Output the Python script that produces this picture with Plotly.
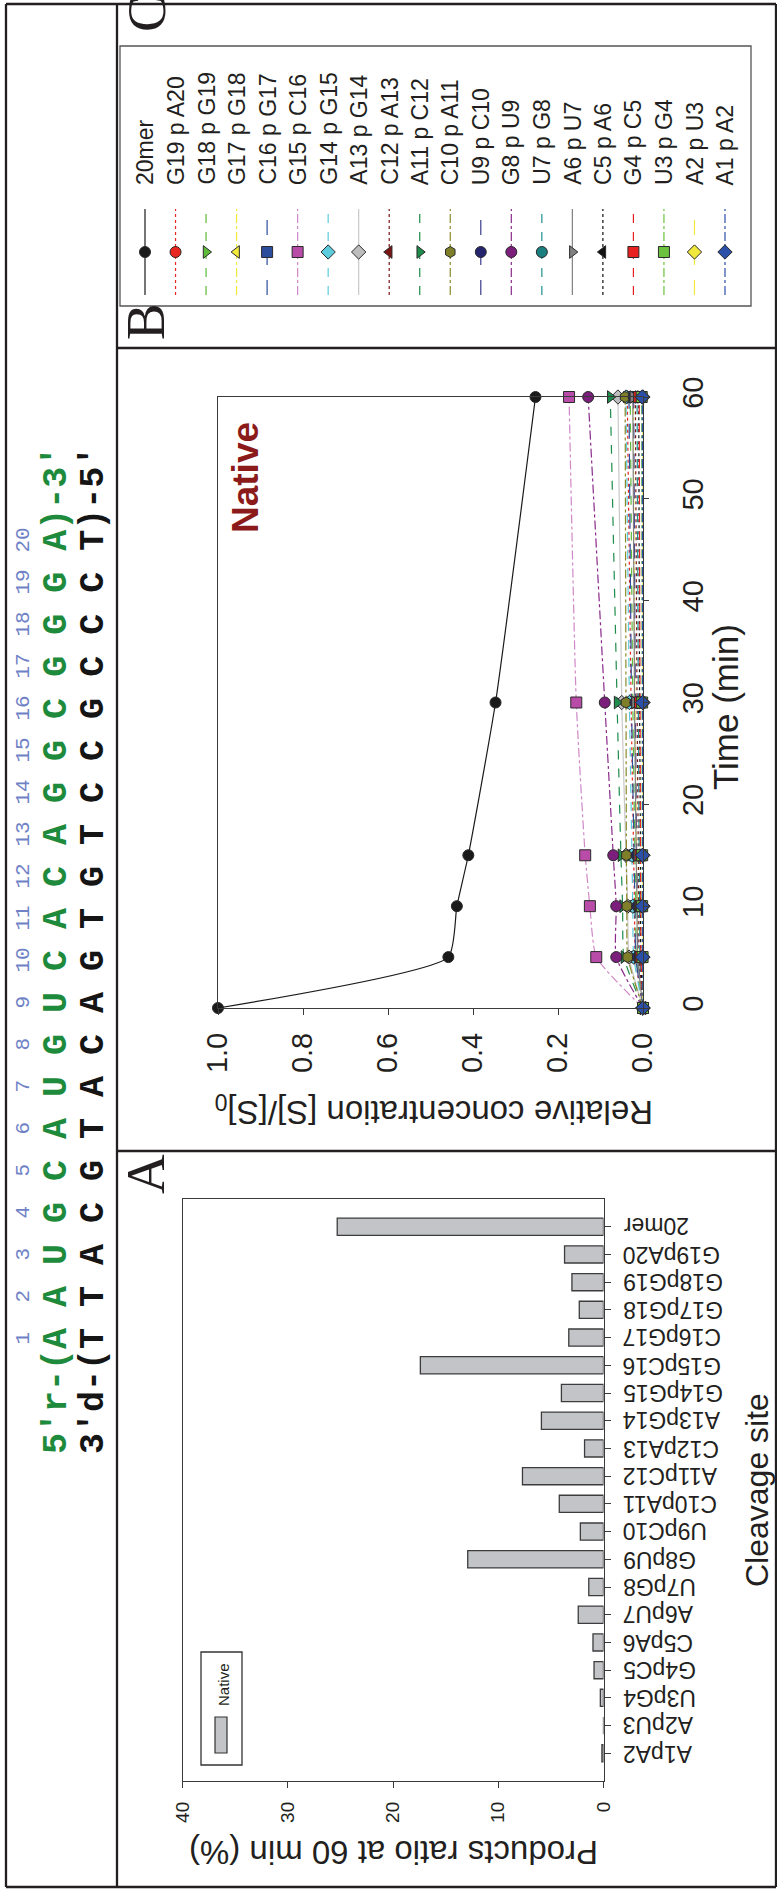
import plotly.graph_objects as go

W, H = 777, 1898

# ---------------- data ----------------
# (B) time course: relative concentration [S]/[S]0 vs time (min)
times = [0, 5, 10, 15, 30, 60]
conc_20mer   = [1.000, 0.458, 0.438, 0.411, 0.347, 0.253]
conc_G19pA20 = [0.0, 0.018, 0.020, 0.022, 0.028, 0.037]
conc_G18pG19 = [0.0, 0.016, 0.017, 0.019, 0.024, 0.030]
conc_G17pG18 = [0.0, 0.012, 0.013, 0.015, 0.019, 0.023]
conc_C16pG17 = [0.0, 0.017, 0.019, 0.021, 0.027, 0.033]
conc_G15pC16 = [0.0, 0.110, 0.125, 0.136, 0.157, 0.174]
conc_G14pG15 = [0.0, 0.022, 0.024, 0.026, 0.032, 0.040]
conc_A13pG14 = [0.0, 0.033, 0.036, 0.040, 0.050, 0.059]
conc_C12pA13 = [0.0, 0.009, 0.010, 0.011, 0.014, 0.018]
conc_A11pC12 = [0.0, 0.045, 0.048, 0.052, 0.061, 0.077]
conc_C10pA11 = [0.0, 0.036, 0.038, 0.039, 0.040, 0.042]
conc_U9pC10  = [0.0, 0.012, 0.013, 0.015, 0.018, 0.022]
conc_G8pU9   = [0.0, 0.063, 0.063, 0.070, 0.090, 0.129]
conc_U7pG8   = [0.0, 0.007, 0.008, 0.009, 0.011, 0.014]
conc_A6pU7   = [0.0, 0.013, 0.014, 0.016, 0.020, 0.024]
conc_C5pA6   = [0.0, 0.005, 0.006, 0.006, 0.008, 0.010]
conc_G4pC5   = [0.0, 0.005, 0.005, 0.006, 0.007, 0.009]
conc_U3pG4   = [0.0, 0.001, 0.002, 0.002, 0.002, 0.003]
conc_A2pU3   = [0.0, 0.000, 0.000, 0.000, 0.000, 0.000]
conc_A1pA2   = [0.0, 0.001, 0.001, 0.001, 0.001, 0.0015]

species_labels = ["20mer", "G19 p A20", "G18 p G19", "G17 p G18", "C16 p G17",
                  "G15 p C16", "G14 p G15", "A13 p G14", "C12 p A13", "A11 p C12",
                  "C10 p A11", "U9 p C10", "G8 p U9", "U7 p G8", "A6 p U7",
                  "C5 p A6", "G4 p C5", "U3 p G4", "A2 p U3", "A1 p A2"]
species_values = [conc_20mer, conc_G19pA20, conc_G18pG19, conc_G17pG18, conc_C16pG17,
                  conc_G15pC16, conc_G14pG15, conc_A13pG14, conc_C12pA13, conc_A11pC12,
                  conc_C10pA11, conc_U9pC10, conc_G8pU9, conc_U7pG8, conc_A6pU7,
                  conc_C5pA6, conc_G4pC5, conc_U3pG4, conc_A2pU3, conc_A1pA2]

# (A) products ratio at 60 min (%) per cleavage site
sites = ["20mer", "G19pA20", "G18pG19", "G17pG18", "C16pG17", "G15pC16", "G14pG15",
         "A13pG14", "C12pA13", "A11pC12", "C10pA11", "U9pC10", "G8pU9", "U7pG8",
         "A6pU7", "C5pA6", "G4pC5", "U3pG4", "A2pU3", "A1pA2"]
ratio_60min = [25.3, 3.7, 3.0, 2.3, 3.3, 17.4, 4.0, 5.9, 1.8, 7.7, 4.2, 2.2, 12.9,
               1.4, 2.4, 1.0, 0.9, 0.3, 0.0, 0.15]

# sequence of the duplex
rna_strand = "5′r-(A A U G C A U G U C A C A G G C G G G A)-3′"
dna_strand = "3′d-(T T A C G T A C A G T G T C C G C C C T)-5′"
site_numbers = list(range(1, 21))

# ---------------- styling ----------------
SANS = "Liberation Sans, Arial, Helvetica, sans-serif"
SERIF = "Liberation Serif, Times New Roman, serif"
MONO = "Liberation Mono, Courier New, monospace"
INK = "#231f20"
AX = "#3a3a3a"

# (line colour, marker symbol, marker colour, dash) per species
styles = [
    ("#1a1a1a", "circle",         "#1a1a1a", "solid"),
    ("#e8251f", "circle",         "#e8251f", "dot"),
    ("#5dbb3a", "triangle-right", "#5dbb3a", "dash"),
    ("#f2ea3a", "triangle-left",  "#f2ea3a", "dashdot"),
    ("#2c4c9c", "square",         "#2c4c9c", "longdash"),
    ("#d088c8", "square",         "#b84ca8", "dashdot"),
    ("#5ccbdc", "diamond",        "#5ccbdc", "dash"),
    ("#c8c8c8", "diamond",        "#bdbdbd", "solid"),
    ("#7a1414", "triangle-left",  "#7a1414", "dot"),
    ("#1e8c4a", "triangle-right", "#1e8c4a", "dash"),
    ("#8a8a2a", "hexagon",        "#7f7f2a", "dashdot"),
    ("#3a3a8c", "circle",         "#24246e", "longdash"),
    ("#8a2a8a", "circle",         "#7c1f7c", "dashdot"),
    ("#1e9090", "circle",         "#1b7f7f", "dash"),
    ("#808080", "triangle-right", "#808080", "solid"),
    ("#111111", "triangle-left",  "#111111", "dot"),
    ("#e82020", "square",         "#e82020", "dash"),
    ("#6cc23e", "square",         "#6cc23e", "dashdot"),
    ("#f0e83a", "diamond",        "#f0e83a", "longdash"),
    ("#2c50a8", "diamond",        "#2c50a8", "dashdot"),
]


def px(x):
    return x / W


def py(y):
    return 1 - y / H


def label(text, x, y, size, angle=-90, family=SANS, color=INK, **kw):
    """Free text positioned by its centre in page pixels."""
    d = dict(x=px(x), y=py(y), xref="paper", yref="paper", text=text, textangle=angle,
             xanchor="center", yanchor="middle", showarrow=False,
             font=dict(family=family, size=size, color=color))
    d.update(kw)
    return d


fig = go.Figure()

# ---- panel A: horizontal bars ----
fig.add_trace(go.Bar(
    x=ratio_60min, y=sites, orientation="h", width=0.62,
    marker=dict(color="#c3c4c8", line=dict(color="#3c3c3c", width=1.3)),
    xaxis="x", yaxis="y", hoverinfo="skip",
))

# ---- panel B: time courses ----
for lab, vals, (lc, sym, mc, dash) in zip(species_labels, species_values, styles):
    fig.add_trace(go.Scatter(
        x=vals, y=times, xaxis="x2", yaxis="y2", mode="lines+markers",
        line=dict(color=lc, width=1.2, dash=dash, shape="spline", smoothing=0.5),
        marker=dict(symbol=sym, size=11, color=mc, line=dict(color="#2a2a2a", width=1)),
        cliponaxis=False, name=lab, hoverinfo="skip",
    ))

# ---- panel C: legend samples (one column per species) ----
for i, (lab, (lc, sym, mc, dash)) in enumerate(zip(species_labels, styles)):
    fig.add_trace(go.Scatter(
        x=[i, i], y=[11, 97], xaxis="x3", yaxis="y3", mode="lines",
        line=dict(color=lc, width=1.2, dash=dash), hoverinfo="skip",
    ))
    fig.add_trace(go.Scatter(
        x=[i], y=[54], xaxis="x3", yaxis="y3", mode="markers",
        marker=dict(symbol=sym, size=11, color=mc, line=dict(color="#2a2a2a", width=1)),
        hoverinfo="skip",
    ))

annotations = []

# legend labels
for i, lab in enumerate(species_labels):
    annotations.append(dict(
        x=i, xref="x3", y=119, yref="y3", xanchor="center", yanchor="bottom",
        text=lab, textangle=-90, showarrow=False,
        font=dict(family=SANS, size=23, color=INK),
    ))

# category labels of panel A (upside-down)
for s in sites:
    annotations.append(dict(
        x=px(621), xref="paper", xanchor="left", y=s, yref="y", yanchor="middle",
        text=s, textangle=180, showarrow=False,
        font=dict(family=SANS, size=23, color=INK),
    ))

# axis titles and in-plot labels
annotations += [
    label("Cleavage site", 757, 1490, 32),
    label("Products ratio at 60 min (%)", 394, 1853, 33, angle=180),
    label("Relative concentration [S]/[S]<sub>0</sub>", 434, 1110, 33, angle=180),
    label("Time (min)", 725, 707, 35),
    label("<b>Native</b>", 245, 478, 37, color="#8b1a1a"),
    label("Native", 223, 1685, 15),
]

# panel letters
for letter, cx, cy in [("A", 145, 1174), ("B", 145, 322), ("C", 146, 14)]:
    annotations.append(label(letter, cx, cy, 55, family=SERIF))

# duplex sequence, read bottom-to-top
seq_font = 35
seq_center = 950
char_w = 0.6 * seq_font
annotations += [
    label(f"<b>{rna_strand}</b>", 57, seq_center, seq_font, family=MONO, color="#1e8a3c"),
    label(f"<b>{dna_strand}</b>", 94, seq_center, seq_font, family=MONO, color="#151515"),
]
seq_bottom = seq_center + len(rna_strand) / 2 * char_w
for k in site_numbers:
    yk = seq_bottom - (5.5 + 2 * (k - 1)) * char_w
    annotations.append(label(str(k), 23, yk, 21, family=MONO, color="#6f82c6"))

# frame lines and legend boxes
shapes = []
frame = dict(type="line", xref="paper", yref="paper", line=dict(color=INK, width=2.3))
shapes += [
    dict(frame, x0=px(6), x1=px(6), y0=py(4), y1=py(1887)),
    dict(frame, x0=px(776), x1=px(776), y0=py(4), y1=py(1887)),
    dict(frame, x0=px(6), x1=px(776), y0=py(4), y1=py(4)),
    dict(frame, x0=px(6), x1=px(776), y0=py(1887), y1=py(1887)),
    dict(frame, x0=px(117), x1=px(117), y0=py(4), y1=py(1887)),
    dict(frame, x0=px(117), x1=px(776), y0=py(348), y1=py(348)),
    dict(frame, x0=px(117), x1=px(776), y0=py(1151), y1=py(1151)),
    dict(type="rect", xref="paper", yref="paper", x0=px(120), x1=px(751), y0=py(306), y1=py(46),
         line=dict(color="#555555", width=1.3)),
    dict(type="rect", xref="paper", yref="paper", x0=px(201), x1=px(242), y0=py(1765), y1=py(1652),
         line=dict(color="#333333", width=1.3)),
    dict(type="rect", xref="paper", yref="paper", x0=px(215), x1=px(227), y0=py(1753), y1=py(1717),
         fillcolor="#c3c4c8", line=dict(color="#333333", width=1.2)),
]

common_axis = dict(showline=True, mirror=True, linecolor=AX, linewidth=1.3, showgrid=False,
                   zeroline=False, ticks="outside", ticklen=6, tickcolor=AX, tickwidth=1.2,
                   automargin=False)

fig.update_layout(
    template="none",
    width=W, height=H, autosize=False,
    margin=dict(l=0, r=0, t=0, b=0, pad=0, autoexpand=False),
    paper_bgcolor="white", plot_bgcolor="white", showlegend=False,
    xaxis=dict(common_axis, domain=[px(182.5), px(603.5)], range=[40, 0], anchor="y",
               tickvals=[0, 10, 20, 30, 40], tickangle=-90, ticklabelstandoff=6,
               tickfont=dict(family=SANS, size=19, color=INK)),
    yaxis=dict(common_axis, domain=[py(1781), py(1199)], type="category",
               categoryorder="array", categoryarray=sites[::-1], range=[-1, 20],
               anchor="x", side="right", showticklabels=False),
    xaxis2=dict(common_axis, domain=[px(218), px(643)], range=[1.0, 0.0], anchor="y2",
                tickvals=[0, 0.2, 0.4, 0.6, 0.8, 1.0],
                ticktext=["0.0", "0.2", "0.4", "0.6", "0.8", "1.0"], tickangle=-90,
                ticklabelstandoff=6, tickfont=dict(family=SANS, size=29, color=INK)),
    yaxis2=dict(common_axis, domain=[py(1008), py(397)], range=[0, 60], anchor="x2",
                side="right", tickvals=[0, 10, 20, 30, 40, 50, 60], tickangle=-90, ticklen=5,
                ticklabelstandoff=19, tickfont=dict(family=SANS, size=29, color=INK)),
    xaxis3=dict(domain=[px(120), px(751)], range=[-0.819, 19.852], anchor="y3",
                visible=False, automargin=False),
    yaxis3=dict(domain=[py(306), py(46)], range=[0, 260], anchor="x3",
                visible=False, automargin=False),
    annotations=annotations,
    shapes=shapes,
)

fig.write_html("out.html")
